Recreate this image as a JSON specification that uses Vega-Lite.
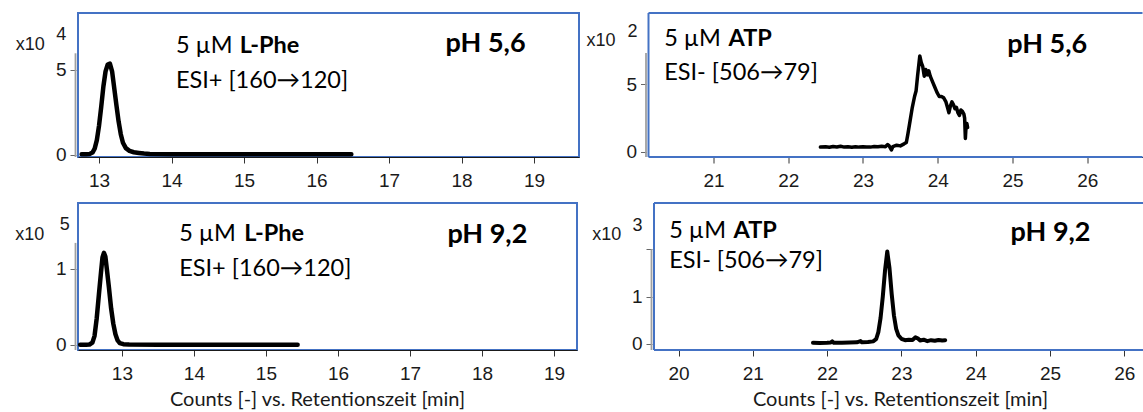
{
  "$schema": "https://vega.github.io/schema/vega-lite/v6.json",
  "background": "white",
  "padding": {"left": 8, "top": 12, "right": 0, "bottom": 0},
  "config": {
    "view": {"stroke": "#4472C4", "strokeWidth": 2},
    "axis": {"labelFont": "Liberation Sans", "labelFontSize": 19, "labelColor": "#1a1a1a", "titleFont": "Lato", "titleFontSize": 20, "titleFontWeight": "normal", "titleColor": "#1a1a1a", "grid": false, "labelFlush": false},
    "axisX": {"tickSize": 6, "labelPadding": 8, "domainColor": "#1a1a1a", "domainWidth": 1.2, "tickColor": "#333333", "format": "d"},
    "axisY": {"domain": false, "tickColor": "#666666", "tickSize": 6, "offset": 2, "labelPadding": 4, "title": null},
    "text": {"font": "Lato", "fontSize": 23.5, "align": "left", "baseline": "alphabetic", "color": "black"}
  },
  "datasets": {
    "phe56": [
      {"t": 12.76, "counts": 200}, {"t": 12.82, "counts": 200}, {"t": 12.87, "counts": 400}, {"t": 12.91, "counts": 1200},
      {"t": 12.94, "counts": 3500}, {"t": 12.97, "counts": 8500}, {"t": 13.00, "counts": 17000}, {"t": 13.03, "counts": 28000},
      {"t": 13.06, "counts": 40000}, {"t": 13.09, "counts": 49000}, {"t": 13.12, "counts": 53000}, {"t": 13.15, "counts": 53500},
      {"t": 13.18, "counts": 49000}, {"t": 13.21, "counts": 39000}, {"t": 13.24, "counts": 29000}, {"t": 13.27, "counts": 19500},
      {"t": 13.30, "counts": 12000}, {"t": 13.33, "counts": 7000}, {"t": 13.37, "counts": 3800}, {"t": 13.42, "counts": 2200},
      {"t": 13.48, "counts": 1400}, {"t": 13.55, "counts": 1000}, {"t": 13.62, "counts": 600}, {"t": 13.70, "counts": 300},
      {"t": 14.0, "counts": 250}, {"t": 14.5, "counts": 250}, {"t": 15.0, "counts": 200}, {"t": 15.5, "counts": 200},
      {"t": 16.0, "counts": 200}, {"t": 16.48, "counts": 200}
    ],
    "phe92": [
      {"t": 12.42, "counts": 300}, {"t": 12.50, "counts": 300}, {"t": 12.55, "counts": 600}, {"t": 12.59, "counts": 3000},
      {"t": 12.62, "counts": 12000}, {"t": 12.65, "counts": 35000}, {"t": 12.68, "counts": 66000}, {"t": 12.71, "counts": 96000},
      {"t": 12.73, "counts": 115000}, {"t": 12.75, "counts": 121000}, {"t": 12.77, "counts": 116000}, {"t": 12.79, "counts": 100000},
      {"t": 12.82, "counts": 75000}, {"t": 12.85, "counts": 48000}, {"t": 12.88, "counts": 28000}, {"t": 12.91, "counts": 14000},
      {"t": 12.94, "counts": 6000}, {"t": 12.97, "counts": 2500}, {"t": 13.02, "counts": 1000}, {"t": 13.10, "counts": 500},
      {"t": 13.5, "counts": 400}, {"t": 14.0, "counts": 400}, {"t": 14.5, "counts": 400}, {"t": 15.0, "counts": 400}, {"t": 15.44, "counts": 400}
    ],
    "atp56": [
      {"t": 22.43, "counts": 36}, {"t": 22.50, "counts": 38}, {"t": 22.55, "counts": 35}, {"t": 22.60, "counts": 40},
      {"t": 22.65, "counts": 37}, {"t": 22.70, "counts": 42}, {"t": 22.75, "counts": 36}, {"t": 22.80, "counts": 38},
      {"t": 22.85, "counts": 35}, {"t": 22.90, "counts": 39}, {"t": 22.95, "counts": 36}, {"t": 23.00, "counts": 38},
      {"t": 23.05, "counts": 37}, {"t": 23.10, "counts": 36}, {"t": 23.15, "counts": 40}, {"t": 23.20, "counts": 38},
      {"t": 23.25, "counts": 42}, {"t": 23.30, "counts": 39}, {"t": 23.33, "counts": 55}, {"t": 23.35, "counts": 45},
      {"t": 23.38, "counts": 15}, {"t": 23.40, "counts": 40}, {"t": 23.45, "counts": 50}, {"t": 23.50, "counts": 45},
      {"t": 23.55, "counts": 60}, {"t": 23.58, "counts": 70}, {"t": 23.60, "counts": 130}, {"t": 23.63, "counts": 230},
      {"t": 23.66, "counts": 330}, {"t": 23.69, "counts": 410}, {"t": 23.71, "counts": 450}, {"t": 23.73, "counts": 560},
      {"t": 23.76, "counts": 710}, {"t": 23.78, "counts": 660}, {"t": 23.80, "counts": 630}, {"t": 23.82, "counts": 560},
      {"t": 23.84, "counts": 610}, {"t": 23.86, "counts": 570}, {"t": 23.88, "counts": 600}, {"t": 23.90, "counts": 560},
      {"t": 23.93, "counts": 520}, {"t": 23.96, "counts": 480}, {"t": 23.99, "counts": 440}, {"t": 24.02, "counts": 410},
      {"t": 24.05, "counts": 410}, {"t": 24.08, "counts": 400}, {"t": 24.11, "counts": 370}, {"t": 24.13, "counts": 330},
      {"t": 24.15, "counts": 290}, {"t": 24.17, "counts": 340}, {"t": 24.19, "counts": 370}, {"t": 24.21, "counts": 350},
      {"t": 24.23, "counts": 320}, {"t": 24.25, "counts": 330}, {"t": 24.27, "counts": 290}, {"t": 24.29, "counts": 270},
      {"t": 24.31, "counts": 310}, {"t": 24.33, "counts": 300}, {"t": 24.35, "counts": 280}, {"t": 24.36, "counts": 250},
      {"t": 24.37, "counts": 100}, {"t": 24.38, "counts": 200}, {"t": 24.39, "counts": 210}, {"t": 24.40, "counts": 180}
    ],
    "atp92": [
      {"t": 21.81, "counts": 25}, {"t": 21.90, "counts": 20}, {"t": 22.00, "counts": 25}, {"t": 22.05, "counts": 30},
      {"t": 22.07, "counts": 55}, {"t": 22.09, "counts": 25}, {"t": 22.20, "counts": 28}, {"t": 22.30, "counts": 30},
      {"t": 22.40, "counts": 35}, {"t": 22.45, "counts": 60}, {"t": 22.47, "counts": 35}, {"t": 22.55, "counts": 40},
      {"t": 22.62, "counts": 55}, {"t": 22.66, "counts": 100}, {"t": 22.69, "counts": 250}, {"t": 22.72, "counts": 550},
      {"t": 22.75, "counts": 1000}, {"t": 22.78, "counts": 1550}, {"t": 22.81, "counts": 1950}, {"t": 22.84, "counts": 1600},
      {"t": 22.87, "counts": 1050}, {"t": 22.90, "counts": 600}, {"t": 22.93, "counts": 320}, {"t": 22.96, "counts": 180},
      {"t": 23.00, "counts": 110}, {"t": 23.05, "counts": 80}, {"t": 23.10, "counts": 90}, {"t": 23.15, "counts": 85},
      {"t": 23.19, "counts": 140}, {"t": 23.22, "counts": 120}, {"t": 23.25, "counts": 75}, {"t": 23.30, "counts": 90},
      {"t": 23.35, "counts": 60}, {"t": 23.40, "counts": 80}, {"t": 23.45, "counts": 70}, {"t": 23.50, "counts": 85},
      {"t": 23.55, "counts": 75}, {"t": 23.59, "counts": 80}
    ]
  },
  "spacing": 11,
  "vconcat": [
    {
      "spacing": 4.5,
      "hconcat": [
        {
          "width": 501, "height": 144,
          "layer": [
            {"data": {"values": [{}]}, "mark": {"type": "rule", "color": "#a0a0a0", "strokeWidth": 1.8, "xOffset": -2.5},
             "encoding": {"x": {"datum": 12.71}, "y": {"datum": -1400}, "y2": {"datum": 59600}}},
            {"data": {"name": "phe56"}, "mark": {"type": "line", "color": "black", "strokeWidth": 4.5, "strokeJoin": "round", "strokeCap": "round"},
             "encoding": {
               "x": {"field": "t", "type": "quantitative", "scale": {"domain": [12.71, 19.62], "nice": false, "zero": false},
                     "axis": {"values": [13, 14, 15, 16, 17, 18, 19], "title": null}},
               "y": {"field": "counts", "type": "quantitative", "scale": {"domain": [-1400, 83300], "nice": false, "zero": false},
                     "axis": {"values": [0, 50000], "labelExpr": "datum.value / 10000", "minExtent": 67}}
             }},
            {"data": {"values": [{}]}, "mark": {"type": "text", "text": "x10", "font": "Liberation Sans", "fontSize": 18, "color": "#1a1a1a"}, "encoding": {"x": {"datum": 11.85}, "y": {"datum": 61350}}},
            {"data": {"values": [{}]}, "mark": {"type": "text", "text": "4", "font": "Liberation Sans", "fontSize": 18, "color": "#1a1a1a"}, "encoding": {"x": {"datum": 12.41}, "y": {"datum": 67200}}},
            {"data": {"values": [{}]}, "mark": {"type": "text", "text": "5 µM"}, "encoding": {"x": {"datum": 14.06}, "y": {"datum": 59600}}},
            {"data": {"values": [{}]}, "mark": {"type": "text", "text": "L-Phe", "fontWeight": "bold"}, "encoding": {"x": {"datum": 14.94}, "y": {"datum": 59600}}},
            {"data": {"values": [{}]}, "mark": {"type": "text", "text": "ESI+ [160→120]"}, "encoding": {"x": {"datum": 14.06}, "y": {"datum": 39400}}},
            {"data": {"values": [{}]}, "mark": {"type": "text", "text": "pH 5,6", "fontWeight": "bold", "fontSize": 27}, "encoding": {"x": {"datum": 17.78}, "y": {"datum": 60200}}}
          ]
        },
        {
          "width": 494, "height": 144,
          "view": {"stroke": null},
          "layer": [
            {"data": {"values": [{}]}, "mark": {"type": "rule", "color": "#a0a0a0", "strokeWidth": 1.8, "xOffset": -2.5},
             "encoding": {"x": {"datum": 20.13}, "y": {"datum": -37}, "y2": {"datum": 731}}},
            {"data": {"values": [{}]}, "mark": {"type": "rule", "color": "#4472C4", "strokeWidth": 2}, "encoding": {"y": {"datum": 1027}}},
            {"data": {"values": [{}]}, "mark": {"type": "rule", "color": "#4472C4", "strokeWidth": 2}, "encoding": {"y": {"datum": -37}}},
            {"data": {"values": [{}]}, "mark": {"type": "rule", "color": "#4472C4", "strokeWidth": 2}, "encoding": {"x": {"datum": 20.13}}},
            {"data": {"name": "atp56"}, "mark": {"type": "line", "color": "black", "strokeWidth": 3.5, "strokeJoin": "round", "strokeCap": "round"},
             "encoding": {
               "x": {"field": "t", "type": "quantitative", "scale": {"domain": [20.13, 26.74], "nice": false, "zero": false},
                     "axis": {"values": [21, 22, 23, 24, 25, 26], "title": null}},
               "y": {"field": "counts", "type": "quantitative", "scale": {"domain": [-37, 1027], "nice": false, "zero": false},
                     "axis": {"values": [0, 500], "labelExpr": "datum.value / 100", "minExtent": 62}}
             }},
            {"data": {"values": [{}]}, "mark": {"type": "text", "text": "x10", "font": "Liberation Sans", "fontSize": 18, "color": "#1a1a1a"}, "encoding": {"x": {"datum": 19.30}, "y": {"datum": 783}}},
            {"data": {"values": [{}]}, "mark": {"type": "text", "text": "2", "font": "Liberation Sans", "fontSize": 18, "color": "#1a1a1a"}, "encoding": {"x": {"datum": 19.85}, "y": {"datum": 850}}},
            {"data": {"values": [{}]}, "mark": {"type": "text", "text": "5 µM"}, "encoding": {"x": {"datum": 20.34}, "y": {"datum": 783}}},
            {"data": {"values": [{}]}, "mark": {"type": "text", "text": "ATP", "fontWeight": "bold"}, "encoding": {"x": {"datum": 21.2}, "y": {"datum": 783}}},
            {"data": {"values": [{}]}, "mark": {"type": "text", "text": "ESI- [506→79]"}, "encoding": {"x": {"datum": 20.34}, "y": {"datum": 532}}},
            {"data": {"values": [{}]}, "mark": {"type": "text", "text": "pH 5,6", "fontWeight": "bold", "fontSize": 27}, "encoding": {"x": {"datum": 24.93}, "y": {"datum": 733}}}
          ]
        }
      ]
    },
    {
      "spacing": 12,
      "hconcat": [
        {
          "width": 499, "height": 147,
          "layer": [
            {"data": {"values": [{}]}, "mark": {"type": "rule", "color": "#a0a0a0", "strokeWidth": 1.8, "xOffset": -2.5},
             "encoding": {"x": {"datum": 12.39}, "y": {"datum": -6600}, "y2": {"datum": 134000}}},
            {"data": {"name": "phe92"}, "mark": {"type": "line", "color": "black", "strokeWidth": 4.5, "strokeJoin": "round", "strokeCap": "round"},
             "encoding": {
               "x": {"field": "t", "type": "quantitative", "scale": {"domain": [12.39, 19.32], "nice": false, "zero": false},
                     "axis": {"values": [13, 14, 15, 16, 17, 18, 19], "title": "Counts [-] vs. Retentionszeit [min]", "titleX": 239, "titleY": 55, "titleAlign": "center", "titleBaseline": "alphabetic"}},
               "y": {"field": "counts", "type": "quantitative", "scale": {"domain": [-6600, 186400], "nice": false, "zero": false},
                     "axis": {"values": [0, 100000], "labelExpr": "datum.value / 100000", "minExtent": 62}}
             }},
            {"data": {"values": [{}]}, "mark": {"type": "text", "text": "x10", "font": "Liberation Sans", "fontSize": 18, "color": "#1a1a1a"}, "encoding": {"x": {"datum": 11.52}, "y": {"datum": 138200}}},
            {"data": {"values": [{}]}, "mark": {"type": "text", "text": "5", "font": "Liberation Sans", "fontSize": 18, "color": "#1a1a1a"}, "encoding": {"x": {"datum": 12.135}, "y": {"datum": 151300}}},
            {"data": {"values": [{}]}, "mark": {"type": "text", "text": "5 µM"}, "encoding": {"x": {"datum": 13.795}, "y": {"datum": 135900}}},
            {"data": {"values": [{}]}, "mark": {"type": "text", "text": "L-Phe", "fontWeight": "bold"}, "encoding": {"x": {"datum": 14.7}, "y": {"datum": 135900}}},
            {"data": {"values": [{}]}, "mark": {"type": "text", "text": "ESI+ [160→120]"}, "encoding": {"x": {"datum": 13.795}, "y": {"datum": 90800}}},
            {"data": {"values": [{}]}, "mark": {"type": "text", "text": "pH 9,2", "fontWeight": "bold", "fontSize": 27}, "encoding": {"x": {"datum": 17.52}, "y": {"datum": 134200}}}
          ]
        },
        {
          "width": 494, "height": 147,
          "view": {"stroke": null},
          "layer": [
            {"data": {"values": [{}]}, "mark": {"type": "rule", "color": "#a0a0a0", "strokeWidth": 1.8, "xOffset": -2.5},
             "encoding": {"x": {"datum": 19.67}, "y": {"datum": -127}, "y2": {"datum": 2000}}},
            {"data": {"values": [{}]}, "mark": {"type": "rule", "color": "#4472C4", "strokeWidth": 2}, "encoding": {"y": {"datum": 2974}}},
            {"data": {"values": [{}]}, "mark": {"type": "rule", "color": "#4472C4", "strokeWidth": 2}, "encoding": {"y": {"datum": -127}}},
            {"data": {"values": [{}]}, "mark": {"type": "rule", "color": "#4472C4", "strokeWidth": 2}, "encoding": {"x": {"datum": 19.67}}},
            {"data": {"name": "atp92"}, "mark": {"type": "line", "color": "black", "strokeWidth": 4, "strokeJoin": "round", "strokeCap": "round"},
             "encoding": {
               "x": {"field": "t", "type": "quantitative", "scale": {"domain": [19.67, 26.32], "nice": false, "zero": false},
                     "axis": {"values": [20, 21, 22, 23, 24, 25, 26], "title": "Counts [-] vs. Retentionszeit [min]", "titleX": 246, "titleY": 55, "titleAlign": "center", "titleBaseline": "alphabetic"}},
               "y": {"field": "counts", "type": "quantitative", "scale": {"domain": [-127, 2974], "nice": false, "zero": false},
                     "axis": {"values": [0, 1000, 2000], "labelExpr": "datum.value == 2000 ? '' : datum.value / 1000", "minExtent": 62}}
             }},
            {"data": {"values": [{}]}, "mark": {"type": "text", "text": "x10", "font": "Liberation Sans", "fontSize": 18, "color": "#1a1a1a"}, "encoding": {"x": {"datum": 18.84}, "y": {"datum": 2197}}},
            {"data": {"values": [{}]}, "mark": {"type": "text", "text": "3", "font": "Liberation Sans", "fontSize": 18, "color": "#1a1a1a"}, "encoding": {"x": {"datum": 19.38}, "y": {"datum": 2373}}},
            {"data": {"values": [{}]}, "mark": {"type": "text", "text": "5 µM"}, "encoding": {"x": {"datum": 19.875}, "y": {"datum": 2241}}},
            {"data": {"values": [{}]}, "mark": {"type": "text", "text": "ATP", "fontWeight": "bold"}, "encoding": {"x": {"datum": 20.74}, "y": {"datum": 2241}}},
            {"data": {"values": [{}]}, "mark": {"type": "text", "text": "ESI- [506→79]"}, "encoding": {"x": {"datum": 19.875}, "y": {"datum": 1607}}},
            {"data": {"values": [{}]}, "mark": {"type": "text", "text": "pH 9,2", "fontWeight": "bold", "fontSize": 27}, "encoding": {"x": {"datum": 24.47}, "y": {"datum": 2163}}}
          ]
        }
      ]
    }
  ]
}
